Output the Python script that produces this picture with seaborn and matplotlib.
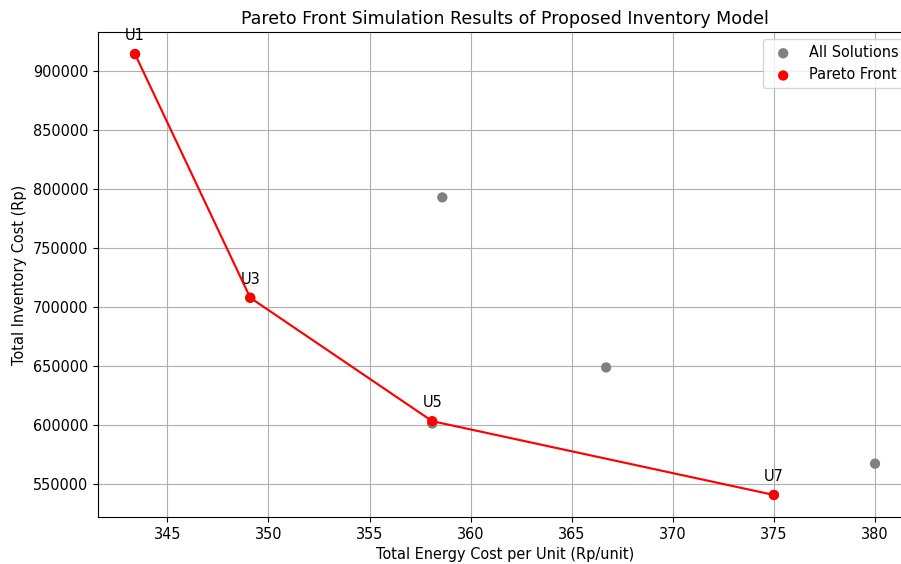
import matplotlib
matplotlib.use("Agg")
import matplotlib.pyplot as plt
import seaborn as sns
import pandas as pd

# All solutions
sol_names = ["U1", "U2", "U3", "U4", "U5", "U6", "U7"]
energy_cost = [343.4, 358.6, 349.1, 366.7, 358.1, 380.0, 375.0]
inventory_cost = [914400, 793000, 708000, 649000, 601500, 567500, 541000]

# Pareto front
pareto_names = ["U1", "U3", "U5", "U7"]
pareto_energy = [343.4, 349.1, 358.1, 375.0]
pareto_inventory = [914400, 708000, 603500, 541000]

df_all = pd.DataFrame({"energy": energy_cost, "inv": inventory_cost})
df_par = pd.DataFrame({"energy": pareto_energy, "inv": pareto_inventory, "name": pareto_names})

fs = 10.45
plt.rcParams["font.size"] = fs

fig = plt.figure(figsize=(9.01, 5.64), dpi=100)
ax = fig.add_axes([98 / 901, 1 - 517 / 564, (912 - 98) / 901, (517 - 32) / 564])

sns.scatterplot(data=df_all, x="energy", y="inv", color="gray", s=55, edgecolor="none",
                label="All Solutions", ax=ax, zorder=3)
sns.lineplot(data=df_par, x="energy", y="inv", color="red", sort=True, estimator=None,
             ax=ax, legend=False, zorder=4, linewidth=1.55)
sns.scatterplot(data=df_par, x="energy", y="inv", color="red", s=55, edgecolor="none",
                label="Pareto Front", ax=ax, zorder=5)

for _, r in df_par.iterrows():
    ax.annotate(r["name"], (r["energy"], r["inv"]), xytext=(0, 10), textcoords="offset points",
                ha="center", fontsize=fs)

ax.set_xticks([345, 350, 355, 360, 365, 370, 375, 380])
ax.set_yticks([550000, 600000, 650000, 700000, 750000, 800000, 850000, 900000])
ax.ticklabel_format(style="plain", axis="y", useOffset=False)
ax.tick_params(labelsize=fs)
ax.margins(0.05)
ax.grid(True, color="#b0b0b0", linewidth=0.8)
ax.set_axisbelow(True)

ax.set_title("Pareto Front Simulation Results of Proposed Inventory Model", fontsize=fs * 1.2)
ax.set_xlabel("Total Energy Cost per Unit (Rp/unit)", fontsize=fs)
ax.set_ylabel("Total Inventory Cost (Rp)", fontsize=fs)

handles, labels = ax.get_legend_handles_labels()
ax.legend(handles, labels, loc="upper right", fontsize=fs)

fig.savefig("out.png", dpi=100)
